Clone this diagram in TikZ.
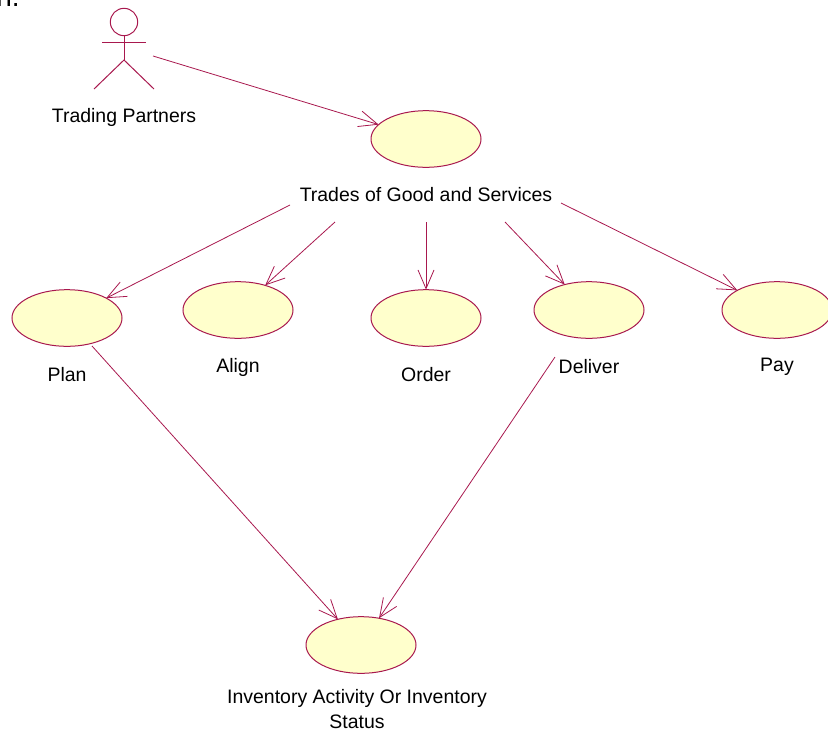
\documentclass[tikz,border=0pt]{standalone}
\usepackage{fontspec}
\setmainfont{Liberation Sans}
\usetikzlibrary{arrows.meta,shapes.geometric}
\definecolor{umlline}{RGB}{168,24,78}
\definecolor{umlfill}{RGB}{255,255,204}
\tikzset{
  x=0.75pt,y=-0.75pt,
  usecase/.style={ellipse,draw=umlline,fill=umlfill,line width=0.75pt,minimum width=82.5pt,minimum height=42.5pt,inner sep=0pt,outer sep=0pt},
  lbl/.style={font=\fontsize{14.6}{19}\selectfont,text=black,inner sep=0pt,align=center},
  assoc/.style={draw=umlline,line width=0.6pt,-{Straight Barb[length=14pt,width=12pt,line width=0.6pt]}},
  stick/.style={draw=umlline,line width=0.75pt}
}
\begin{document}
\begin{tikzpicture}
\useasboundingbox (0,0) rectangle (828,736);
\clip (0,0) rectangle (828,736);
\node[font=\fontsize{21}{25}\selectfont,anchor=base east,inner sep=0pt] (cut) at (20,6) {wn.};
% actor
\node[circle,draw=umlline,line width=0.75pt,minimum size=20.5pt,inner sep=0pt,outer sep=0pt] (head) at (124,22) {};
\coordinate (hip) at (124,60);
\coordinate (armL) at (102,42);
\coordinate (armR) at (146,42);
\coordinate (legL) at (94,89);
\coordinate (legR) at (154,89);
\draw[stick] (head.south) -- (hip);
\draw[stick] (armL) -- (armR);
\draw[stick] (legL) -- (hip) -- (legR);
\node[lbl] (ltp) at (124,117) {Trading Partners};
% use cases
\node[usecase] (trades) at (426,139) {};
\node[usecase] (plan) at (67,318) {};
\node[usecase] (align) at (238,310) {};
\node[usecase] (order) at (426,318) {};
\node[usecase] (deliver) at (589,310) {};
\node[usecase] (pay) at (777,310) {};
\node[usecase] (inv) at (361,645) {};
% labels
\node[lbl] (ltrades) at (426,195) {Trades of Good and Services};
\node[lbl] (lplan) at (67,375) {Plan};
\node[lbl] (lalign) at (238,367) {Align};
\node[lbl] (lorder) at (426,375) {Order};
\node[lbl] (ldeliver) at (589,367) {Deliver};
\node[lbl] (lpay) at (777,367) {Pay};
\node[lbl,anchor=north] (linv) at (357,689) {Inventory Activity Or Inventory\\Status};
% free ends
\coordinate (s0) at (153,56);
\coordinate (s1) at (290,205);
\coordinate (s2) at (335,222);
\coordinate (s3) at (426,222);
\coordinate (s4) at (505,222);
\coordinate (s5) at (561,203);
\coordinate (s6) at (92,346);
\coordinate (s7) at (555,357);
% connectors
\draw[assoc] (s0) -- (trades);
\draw[assoc] (s1) -- (plan);
\draw[assoc] (s2) -- (align);
\draw[assoc] (s3) -- (order);
\draw[assoc] (s4) -- (deliver);
\draw[assoc] (s5) -- (pay);
\draw[assoc] (s6) -- (inv);
\draw[assoc] (s7) -- (inv);
\end{tikzpicture}
\end{document}
